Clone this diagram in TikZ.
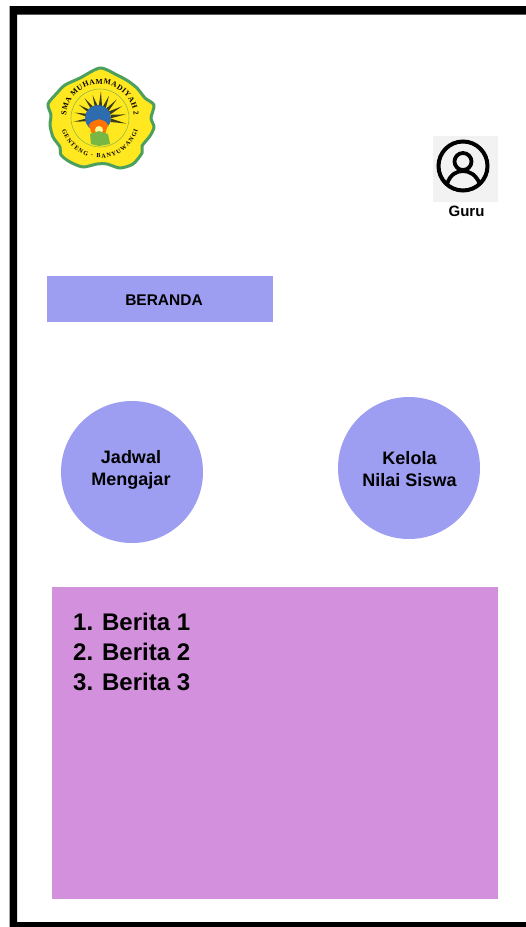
\documentclass[tikz,border=0pt]{standalone}
\usepackage{fontspec}
\setmainfont{Liberation Sans}
\newfontfamily\logofont{Liberation Serif}
\usetikzlibrary{decorations.text}
\definecolor{lilac}{HTML}{9D9DF2}
\definecolor{orchid}{HTML}{D391DD}
\definecolor{iconbg}{HTML}{F2F2F2}
\definecolor{logoyellow}{HTML}{FFE81F}
\definecolor{logogreen}{HTML}{4C9F5C}
\definecolor{logodark}{HTML}{3C3C18}
\definecolor{logoblue}{HTML}{2E6CB0}
\tikzset{
  circbtn/.style={circle,fill=lilac,minimum size=142pt,inner sep=0pt},
  btntext/.style={align=center,font=\fontsize{18}{22.5}\selectfont\bfseries},
}
\begin{document}
\begin{tikzpicture}[x=1pt,y=-1pt]
\useasboundingbox (0,0) rectangle (526,927);
\fill[white] (0,0) rectangle (526,927);
\fill[black,even odd rule] (9.5,6) rectangle (526,927) (17,14.5) rectangle (526,922);
% logo
\draw[fill=logoyellow,draw=logogreen,line width=3pt,line join=round,smooth cycle,tension=0.45]
 plot coordinates {(100,68)(117,75)(128,81)(137,88)(145,98)(154,105)(151,118)(154,127)(150,136)(142,146)(142,153)(133,164)(120,168)(107,164)(97,164)(83,167)(70,162)(61,155)(60,147)(53,137)(50,125)(51,115)(48,104)(57,93)(65,85)(80,78)};
\begin{scope}[shift={(100,118)},x=1pt,y=1pt]
 \draw[logogreen!60!logoyellow,line width=.6pt] (0,0) circle (29);
 \foreach \a/\r in {-12/27,8/26,28/25,48/25,68/24,88/27,108/24,128/25,148/25,168/26,188/27}
   \fill[logodark] (\a-9:11) -- (\a:\r) -- (\a+9:11) -- cycle;
 \fill[logoblue] (-2,0) circle (13);
 \fill[orange!90!red] (-11,-7) .. controls (-7,-1) and (-3,-3) .. (-1,-1) .. controls (1,-3) and (5,-1) .. (8,-7) -- (5,-16) -- (-8,-16) -- cycle;
 \fill[yellow!40!white] (-1,-12) circle (4);
 \fill[logogreen!75!yellow] (-10,-16) -- (-1,-13) -- (8,-16) -- (10,-26) -- (-1,-28) -- (-9,-26) -- cycle;
 \path[postaction={decorate},decoration={text along path,text align=fit to path,
   text={|\logofont\fontsize{7.6}{8}\selectfont\bfseries|SMA MUHAMMADIYAH 2}}]
   (176:34) arc[start angle=176,end angle=4,radius=34];
 \path[postaction={decorate},decoration={text along path,text align=fit to path,
   text={|\logofont\fontsize{6.2}{8}\selectfont\bfseries|GENTENG - BANYUWANGI}}]
   (198:40) arc[start angle=198,end angle=342,radius=40];
\end{scope}
% profile icon
\node[fill=iconbg,inner sep=0pt,minimum width=65pt,minimum height=66pt] (iconbox) at (465.5,169) {};
\draw[line width=4pt] (463,166) circle (24.5);
\draw[line width=3.8pt] (463,161.5) circle (8.5);
\draw[line width=3.8pt] (447,184) .. controls (450,175) and (456,171) .. (463,171) .. controls (470,171) and (476,175) .. (480,184);
\node[font=\fontsize{15}{18}\selectfont\bfseries] (guru) at (466.5,211) {Guru};
% title
\node[fill=lilac,inner sep=0pt,minimum width=226pt,minimum height=46pt] (beranda) at (160,299) {};
\node[font=\fontsize{15.5}{18}\selectfont\bfseries] (berandatext) at (164,300.5) {BERANDA};
% buttons
\node[circbtn] (jadwalbtn) at (132,472) {};
\node[btntext] (jadwal) at (131,470) {Jadwal\\Mengajar};
\node[circbtn] (kelolabtn) at (409,468) {};
\node[btntext] (kelola) at (409.5,469) {Kelola\\Nilai Siswa};
% news
\node[fill=orchid,inner sep=0pt,minimum width=446pt,minimum height=312pt] (news) at (275,743) {};
\node[anchor=north west,inner sep=0pt,align=left,font=\fontsize{24}{30}\selectfont\bfseries] (berita) at (73,613) {1. Berita 1\\2. Berita 2\\3. Berita 3};
\end{tikzpicture}
\end{document}
